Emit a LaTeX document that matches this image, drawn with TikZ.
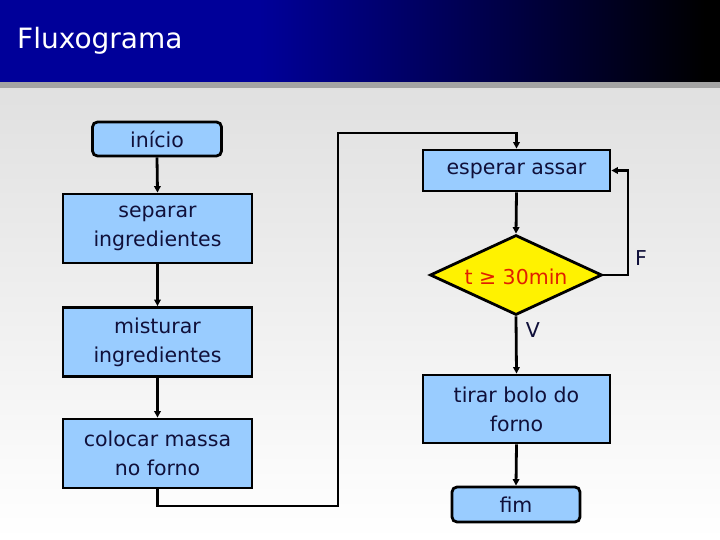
\documentclass[tikz,border=0pt]{standalone}
\usepackage{fontspec}
\setmainfont{DejaVu Sans}
\usetikzlibrary{shapes.geometric,arrows.meta}
\definecolor{titleblue}{HTML}{000099}
\definecolor{boxblue}{HTML}{99CCFF}
\definecolor{txt}{HTML}{10103A}
\definecolor{condred}{HTML}{E02000}
\begin{document}
\begin{tikzpicture}[x=1pt,y=-1pt,
  every node/.style={font=\fontsize{20.5}{29}\selectfont, text=txt, align=center, inner sep=0pt},
  procbox/.style={draw=black, line width=2.8pt, fill=boxblue},
  termbox/.style={procbox, rounded corners=5pt},
  decbox/.style={draw=black, line width=2.8pt, fill=yellow, diamond, minimum width=172pt, minimum height=80pt},
  conn/.style={line width=2.8pt, draw=black, -{Triangle[length=6.5pt,width=6.5pt]}}]
\useasboundingbox (0,0) rectangle (720,540);
% background
\shade[top color=black!12, bottom color=white] (0,88) rectangle (720,540);
\fill[titleblue] (0,0) rectangle (260,82);
\shade[left color=titleblue, right color=black] (259.5,0) rectangle (705,82);
\fill[black] (704.5,0) rectangle (720,82);
\fill[black!36] (0,82) rectangle (720,88);
\node[anchor=west, text=white, font=\fontsize{28}{32}\selectfont] (title) at (17,41) {Fluxograma};
% nodes
\node[termbox, minimum width=129pt, minimum height=34pt] (inicio) at (157,139) {início};
\node[procbox, minimum width=189pt, minimum height=69pt] (separar) at (157.5,228.5) {separar\\ingredientes};
\node[procbox, minimum width=189pt, minimum height=69pt] (misturar) at (157.5,342) {misturar\\ingredientes};
\node[procbox, minimum width=189pt, minimum height=69pt] (colocar) at (157.5,453.5) {colocar massa\\no forno};
\node[procbox, minimum width=187pt, minimum height=41pt] (esperar) at (516.5,170.5) {esperar assar};
\node[decbox] (dec) at (516,275) {};
\node[text=condred] (declabel) at (516,277) {t ≥ 30min};
\node[procbox, minimum width=187pt, minimum height=68pt] (tirar) at (516.5,409) {tirar bolo do\\forno};
\node[termbox, minimum width=128pt, minimum height=35pt] (fim) at (516,504.5) {fim};
\node (F) at (641,258) {F};
\node (V) at (533,330) {V};
% coordinates
\coordinate (c1) at (338,506);
\coordinate (c2) at (338,133);
\coordinate (c3) at (628,275);
% connectors
\draw[conn] (inicio.south) -- (separar.north);
\draw[conn] (separar.south) -- (misturar.north);
\draw[conn] (misturar.south) -- (colocar.north);
\draw[conn] (colocar.south) |- (c1) -- (c2) -| (esperar.north);
\draw[conn] (esperar.south) -- (dec.north);
\draw[conn] (dec.east) -- (c3) |- (esperar.east);
\draw[conn] (dec.south) -- (tirar.north);
\draw[conn] (tirar.south) -- (fim.north);
\end{tikzpicture}
\end{document}
